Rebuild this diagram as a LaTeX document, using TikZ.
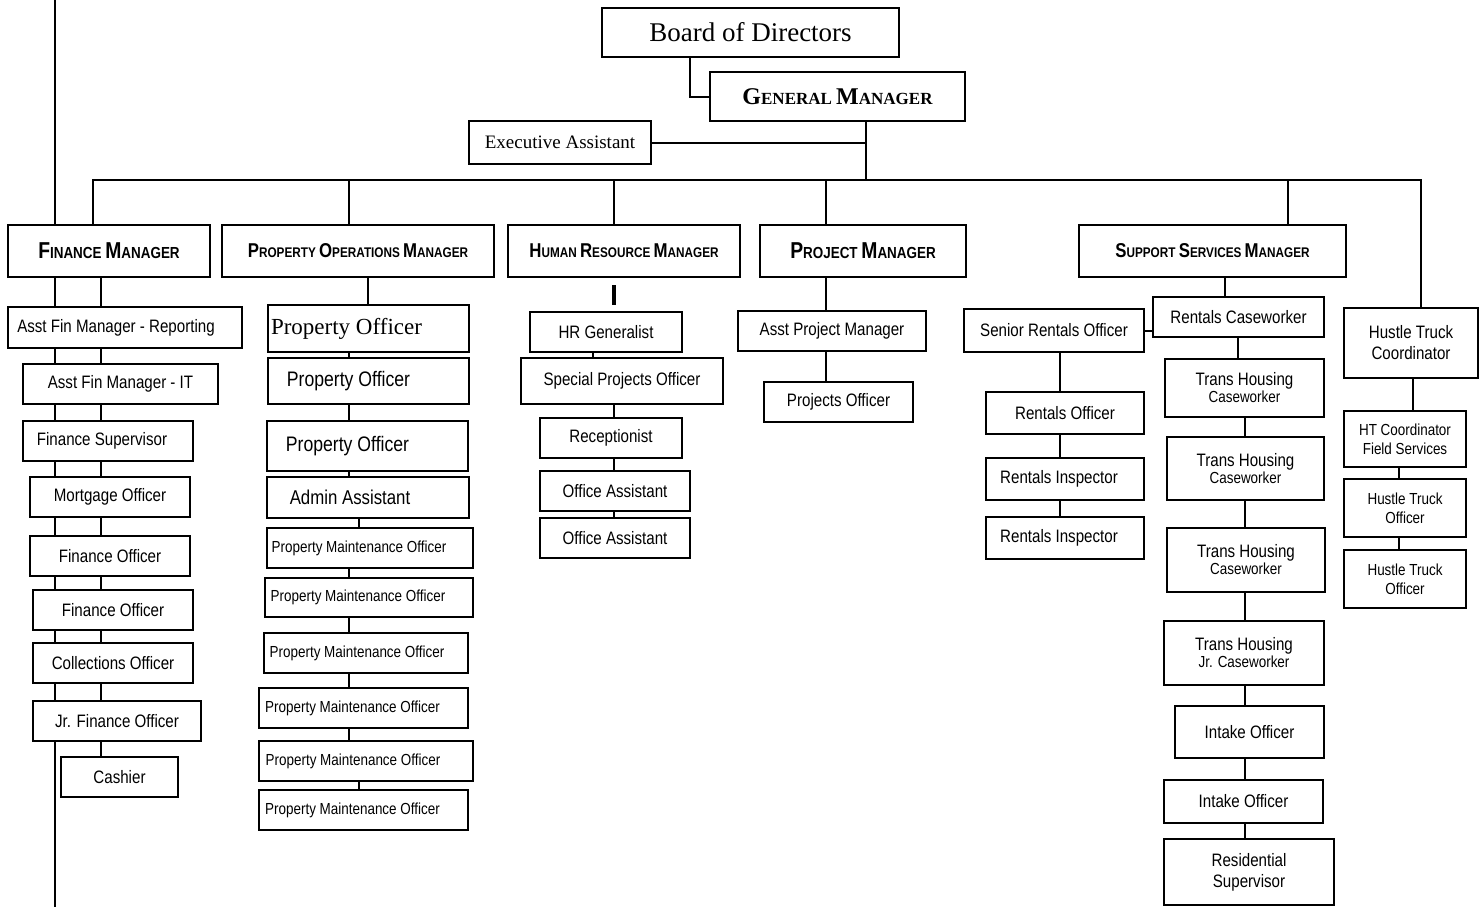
\documentclass[tikz,border=0pt]{standalone}
\usepackage{fontspec}
\setmainfont{Liberation Serif}
\newfontfamily\nsf[FakeStretch=0.84]{Liberation Sans}
% bigger first letter for the manager titles
\newcommand\capl[2][10]{{\fontsize{#1}{12}\selectfont#2}}
% box from its corners (pixel units): options, name, x1, y1, x2, y2, text
\newcommand\post[7][]{\node[post,minimum width={(#5-#3)*0.5pt},minimum height={(#6-#4)*0.5pt},#1] (#2) at ({(#3+#5)/2},{(#4+#6)/2}) {#7};}

\tikzset{
  post/.style={draw,line width=1.2pt,fill=white,inner sep=0pt,align=center,
    font=\nsf\fontsize{9}{10.5}\selectfont},
  small/.style={font=\nsf\fontsize{8}{9.5}\selectfont},
  head/.style={font=\nsf\bfseries\fontsize{7}{9}\selectfont},
  bighead/.style={font=\nsf\bfseries\fontsize{8}{9}\selectfont},
  lean/.style={execute at end node={\hspace*{#1pt}}},
  link/.style={line width=1pt},
}

\begin{document}
\begin{tikzpicture}[x=0.5pt,y=-0.5pt]
\useasboundingbox (0,0) rectangle (1481,907);

% columns of the connectors
\foreach \n/\x in {bg/690,gmx/866,top/55,finB/101,finT/93,popx/349,po0/368,pom2/359,
  hrx/614,hrg2/593,pjx/826,ssx/1288,ssd/1225,srx/1060,rcx/1238,thx/1245,htx/1421,htf2/1413,hto2x/1399}
  \coordinate (\n) at (\x,0);
\coordinate (bus) at (0,180);
\coordinate (bot) at (55,907);

% top
\post[font=\rmfamily\fontsize{13.5}{15}\selectfont]{board}{602}{8}{899}{57}{Board of Directors}
\post[font=\rmfamily\bfseries\fontsize{8.5}{11}\selectfont]{gm}{710}{72}{965}{121}{\capl[12]{G}ENERAL \capl[12]{M}ANAGER}
\post[font=\rmfamily\fontsize{9.5}{11}\selectfont]{ea}{469}{121}{651}{164}{Executive Assistant}

% managers
\post[bighead]{fin}{8}{225}{210}{277}{\capl[11.5]{F}INANCE \capl[11.5]{M}ANAGER}
\post[head]{pom}{222}{225}{494}{277}{\capl{P}ROPERTY \capl{O}PERATIONS \capl{M}ANAGER}
\post[head]{hrm}{508}{225}{740}{277}{\capl{H}UMAN \capl{R}ESOURCE \capl{M}ANAGER}
\post[bighead]{pm}{760}{225}{966}{277}{\capl[11.5]{P}ROJECT \capl[11.5]{M}ANAGER}
\post[head]{ssm}{1079}{225}{1346}{277}{\capl{S}UPPORT \capl{S}ERVICES \capl{M}ANAGER}

% finance
\post[lean=9]{afr}{8}{307}{242}{348}{Asst Fin Manager - Reporting}
\post{afi}{23}{364}{218}{404}{Asst Fin Manager - IT}
\post[lean=6]{fsup}{23}{421}{193}{461}{Finance Supervisor}
\post{mort}{30}{477}{190}{517}{Mortgage Officer}
\post{fo1}{30}{536}{190}{576}{Finance Officer}
\post{fo2}{33}{590}{193}{630}{Finance Officer}
\post{coll}{33}{643}{193}{683}{Collections Officer}
\post{jfo}{33}{701}{201}{741}{Jr. Finance Officer}
\post{cash}{61}{757}{178}{797}{Cashier}

% property operations
\post[font=\rmfamily\fontsize{11.5}{13}\selectfont,lean=22]{po1}{268}{305}{469}{352}{Property Officer}
\post[font=\nsf\fontsize{10.5}{12}\selectfont,lean=20]{po2}{268}{358}{469}{404}{Property Officer}
\post[font=\nsf\fontsize{10.5}{12}\selectfont,lean=20]{po3}{267}{421}{468}{471}{Property Officer}
\post[font=\nsf\fontsize{10}{12}\selectfont,lean=18]{adm}{267}{477}{469}{518}{Admin Assistant}
\post[small,lean=11]{pm1}{267}{528}{473}{568}{Property Maintenance Officer}
\post[small,lean=11]{pm2}{265}{578}{473}{617}{Property Maintenance Officer}
\post[small,lean=9]{pm3}{264}{633}{468}{673}{Property Maintenance Officer}
\post[small,lean=11]{pm4}{259}{688}{468}{728}{Property Maintenance Officer}
\post[small,lean=13]{pm5}{259}{741}{473}{781}{Property Maintenance Officer}
\post[small,lean=11]{pm6}{259}{790}{468}{830}{Property Maintenance Officer}

% human resources
\post{hrg}{530}{312}{682}{352}{HR Generalist}
\post{spo}{521}{358}{723}{404}{Special Projects Officer}
\post{rec}{540}{418}{682}{458}{Receptionist}
\post{oa1}{540}{471}{690}{511}{Office Assistant}
\post{oa2}{540}{518}{690}{558}{Office Assistant}

% projects
\post{apm}{738}{311}{926}{351}{Asst Project Manager}
\post{pjo}{764}{382}{913}{422}{Projects Officer}

% support services
\post{rcw}{1153}{297}{1324}{337}{Rentals Caseworker}
\post{sro}{964}{309}{1144}{352}{Senior Rentals Officer}
\post{ro}{986}{392}{1144}{434}{Rentals Officer}
\post[lean=6]{ri1}{986}{458}{1144}{500}{Rentals Inspector}
\post[lean=6]{ri2}{986}{517}{1144}{559}{Rentals Inspector}
\post{thc1}{1165}{359}{1324}{417}{Trans Housing\\[-2pt]{\fontsize{8}{9}\selectfont Caseworker}}
\post{thc2}{1167}{437}{1324}{500}{Trans Housing\\[-2pt]{\fontsize{8}{9}\selectfont Caseworker}}
\post{thc3}{1167}{528}{1325}{592}{Trans Housing\\[-2pt]{\fontsize{8}{9}\selectfont Caseworker}}
\post{thj}{1164}{621}{1324}{685}{Trans Housing\\[-2pt]{\fontsize{8}{9}\selectfont Jr. Caseworker}}
\post{io1}{1175}{706}{1324}{758}{Intake Officer}
\post{io2}{1164}{780}{1323}{823}{Intake Officer}
\post{rs}{1164}{839}{1334}{905}{Residential\\Supervisor}

% hustle truck
\post{htc}{1344}{308}{1478}{378}{Hustle Truck\\Coordinator}
\post[small]{htf}{1344}{411}{1466}{467}{HT Coordinator\\Field Services}
\post[small]{hto1}{1344}{479}{1466}{537}{Hustle Truck\\Officer}
\post[small]{hto2}{1344}{550}{1466}{608}{Hustle Truck\\Officer}

% top links
\draw[link] (board.south -| bg) |- (gm.west);
\draw[link] (gm.south -| gmx) -- (gmx |- bus);
\draw[link] (ea.east) -- (ea.east -| gmx);
\draw[link] (fin.north -| finT) -- (finT |- bus) -- (htx |- bus) -- (htc.north -| htx);
\foreach \n/\c in {pom/popx,hrm/hrx,pm/pjx,ssm/ssx}
  \draw[link] (\c |- bus) -- (\n.north -| \c);

% finance links
\draw[link] (top) -- (fin.north -| top);
\foreach \a/\b in {fin/afr,afr/afi,afi/fsup,fsup/mort,mort/fo1,fo1/fo2,fo2/coll,coll/jfo}
  \draw[link] (\a.south -| top) -- (\b.north -| top);
\draw[link] (jfo.south -| top) -- (bot);
\foreach \a/\b in {fin/afr,afr/afi,afi/fsup,fsup/mort,mort/fo1,fo1/fo2,fo2/coll,coll/jfo,jfo/cash}
  \draw[link] (\a.south -| finB) -- (\b.north -| finB);

% property links
\draw[link] (pom.south -| po0) -- (po1.north -| po0);
\foreach \a/\b in {po1/po2,po2/po3,po3/adm,pm1/pm2,pm2/pm3,pm3/pm4,pm4/pm5}
  \draw[link] (\a.south -| popx) -- (\b.north -| popx);
\foreach \a/\b in {adm/pm1,pm5/pm6}
  \draw[link] (\a.south -| pom2) -- (\b.north -| pom2);

% hr links
\draw[line width=2pt] ([yshift=3pt]hrg.north -| hrx) -- ++(0,-20);
\draw[link] (hrg.south -| hrg2) -- (spo.north -| hrg2);
\foreach \a/\b in {spo/rec,rec/oa1,oa1/oa2}
  \draw[link] (\a.south -| hrx) -- (\b.north -| hrx);

% project links
\foreach \a/\b in {pm/apm,apm/pjo}
  \draw[link] (\a.south -| pjx) -- (\b.north -| pjx);

% support links
\draw[link] (ssm.south -| ssd) -- (rcw.north -| ssd);
\draw[link] (sro.east) -- (sro.east -| rcw.west);
\foreach \a/\b in {sro/ro,ro/ri1,ri1/ri2}
  \draw[link] (\a.south -| srx) -- (\b.north -| srx);
\draw[link] (rcw.south -| rcx) -- (thc1.north -| rcx);
\foreach \a/\b in {thc1/thc2,thc2/thc3,thc3/thj,thj/io1,io1/io2,io2/rs}
  \draw[link] (\a.south -| thx) -- (\b.north -| thx);

% hustle truck links
\draw[link] (htc.south -| htf2) -- (htf.north -| htf2);
\foreach \a/\b in {htf/hto1,hto1/hto2}
  \draw[link] (\a.south -| hto2x) -- (\b.north -| hto2x);
\end{tikzpicture}
\end{document}
